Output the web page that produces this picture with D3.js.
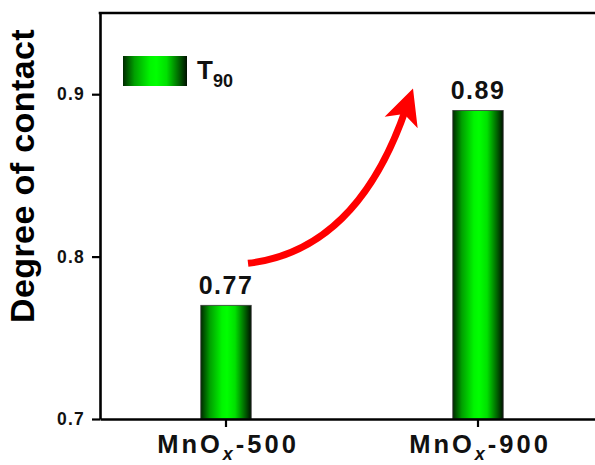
<!DOCTYPE html>
<html>
<head>
<meta charset="utf-8">
<script src="https://cdn.jsdelivr.net/npm/d3@7"></script>
<style>
  html, body { margin: 0; padding: 0; background: #fff; }
  svg { display: block; font-family: "Liberation Sans", Arial, sans-serif; }
</style>
</head>
<body>
<svg id="chart" width="595" height="465"></svg>
<script>
// ---- data ----
const categories = ["MnOx-500", "MnOx-900"];
const catBase = ["MnO", "MnO"];
const catSub = ["x", "x"];
const catSuffix = ["-500", "-900"];
const values = [0.77, 0.89];
const yTicks = [0.7, 0.8, 0.9];
const seriesName = "T";
const seriesSub = "90";
const yTitle = "Degree of contact";

// ---- layout ----
const plotLeft = 100, plotTop = 13, plotBottom = 419, plotRight = 604;

const svg = d3.select("#chart");

const defs = svg.append("defs");
const grad = defs.append("linearGradient").attr("id", "barGrad")
  .attr("x1", "0%").attr("x2", "100%").attr("y1", "0%").attr("y2", "0%");
[[0, "#002a00"], [0.18, "#00a000"], [0.42, "#00f500"], [0.52, "#00ff00"], [0.68, "#00e000"], [0.88, "#006000"], [1, "#001000"]]
  .forEach(([o, c]) => grad.append("stop").attr("offset", o).attr("stop-color", c));

const x = d3.scaleBand().domain(categories).range([plotLeft, plotRight])
  .paddingInner(0.8).paddingOuter(0.4);
const y = d3.scaleLinear().domain([0.7, 0.95]).range([plotBottom, plotTop]);

// bars
svg.append("g").selectAll("rect").data(values).join("rect")
  .attr("x", (d, i) => x(categories[i]))
  .attr("y", d => y(d))
  .attr("width", x.bandwidth())
  .attr("height", d => y(0.7) - y(d))
  .attr("fill", "url(#barGrad)")
  .attr("stroke", "#3a3a3a")
  .attr("stroke-width", 0.8);

// value labels
svg.append("g").selectAll("text").data(values).join("text")
  .attr("x", (d, i) => x(categories[i]) + x.bandwidth() / 2)
  .attr("y", d => y(d) - 11)
  .attr("text-anchor", "middle")
  .attr("font-size", 25).attr("font-weight", "bold")
  .attr("letter-spacing", 1.5)
  .attr("fill", "#111")
  .text(d => d.toFixed(2));

// y axis
const yAxis = svg.append("g").attr("transform", `translate(${plotLeft},0)`)
  .call(d3.axisLeft(y).tickValues(yTicks).tickSize(8).tickSizeOuter(0).tickPadding(7).tickFormat(d3.format(".1f")));
yAxis.select(".domain").attr("stroke", "#000").attr("stroke-width", 2.6);
yAxis.selectAll(".tick line").attr("stroke", "#000").attr("stroke-width", 2.2);
yAxis.selectAll(".tick text").attr("font-size", 17.5).attr("font-weight", "bold")
  .attr("letter-spacing", 1.2).attr("fill", "#111").attr("font-family", "Liberation Sans, Arial, sans-serif");

// top border
svg.append("line").attr("x1", plotLeft - 1.3).attr("x2", plotRight).attr("y1", plotTop).attr("y2", plotTop)
  .attr("stroke", "#000").attr("stroke-width", 2.6);

// x axis
const xAxis = svg.append("g").attr("transform", `translate(0,${plotBottom})`)
  .call(d3.axisBottom(x).tickSize(8).tickSizeOuter(0).tickFormat(""));
xAxis.select(".domain").attr("stroke", "#000").attr("stroke-width", 2.6);
xAxis.selectAll(".tick line").attr("stroke", "#000").attr("stroke-width", 2.2);

// x labels with subscripts
const xl = svg.append("g").selectAll("text").data(categories).join("text")
  .attr("x", d => x(d) + x.bandwidth() / 2 + 2)
  .attr("y", 453)
  .attr("text-anchor", "middle")
  .attr("font-size", 25.5).attr("font-weight", "bold")
  .attr("letter-spacing", 3)
  .attr("fill", "#111");
xl.append("tspan").text((d, i) => catBase[i]);
xl.append("tspan").attr("dy", 7).attr("font-size", 18).attr("font-style", "italic").text((d, i) => catSub[i]);
xl.append("tspan").attr("dy", -7).text((d, i) => catSuffix[i]);

// y title
svg.append("text")
  .attr("transform", `translate(34,${(plotTop + 320 + 19) / 2}) rotate(-90)`)
  .attr("text-anchor", "middle")
  .attr("font-size", 34).attr("font-weight", "bold")
  .attr("letter-spacing", 0.4)
  .attr("fill", "#000")
  .text(yTitle);

// legend
svg.append("rect").attr("x", 123).attr("y", 56).attr("width", 64).attr("height", 30)
  .attr("fill", "url(#barGrad)");
const lt = svg.append("text").attr("x", 197).attr("y", 79)
  .attr("font-size", 26).attr("font-weight", "bold").attr("fill", "#111");
lt.append("tspan").text(seriesName);
lt.append("tspan").attr("dy", 8).attr("font-size", 18).text(seriesSub);

// arrow annotation (anchored to bars)
const sx = x(categories[0]) + x.bandwidth() / 2 + 22, sy = y(values[0]) - 42;
const tx = x(categories[1]) + x.bandwidth() / 2 - 65, ty = y(values[1]) - 22;
const ang = Math.atan2(-33, 11.5);
const rot = (px, py) => [tx + px * Math.cos(ang) - py * Math.sin(ang), ty + px * Math.sin(ang) + py * Math.cos(ang)];
const shaftEnd = rot(-22, 0);
const path = d3.path();
path.moveTo(sx, sy);
path.bezierCurveTo(sx + 52, sy - 6, sx + 117, sy - 36, shaftEnd[0], shaftEnd[1]);
svg.append("path").attr("d", path.toString())
  .attr("fill", "none").attr("stroke", "#ff0000").attr("stroke-width", 7);
const head = [[0, 0], [-36, -17.5], [-27, 0], [-36, 17.5]].map(p => rot(p[0], p[1]));
svg.append("polygon").attr("points", head.map(p => p.join(",")).join(" "))
  .attr("fill", "#ff0000");
</script>
</body>
</html>
